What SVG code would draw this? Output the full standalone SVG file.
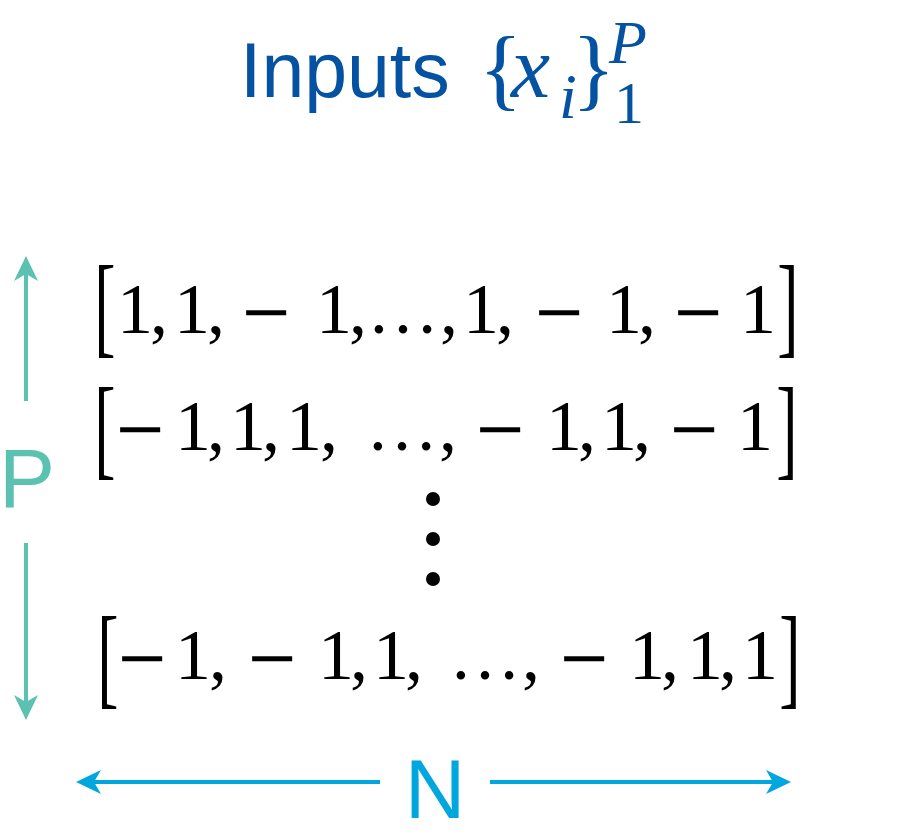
<svg xmlns="http://www.w3.org/2000/svg" width="923" height="836" viewBox="0 0 923 836">
  <style>
    .title { font-family: "Liberation Sans", Arial, sans-serif; font-size: 77px; fill: #0452A1; }
    .math { font-family: "Liberation Serif", "Times New Roman", serif; fill: #0452A1; }
    .row { font-family: "Liberation Serif", "Times New Roman", serif; font-size: 72px; fill: #000; text-anchor: middle; }
    .mn { font-family: "DejaVu Serif", serif; font-size: 64px; }
    .br { font-family: "Liberation Serif", "Times New Roman", serif; font-size: 64px; fill: #000; text-anchor: middle; }
    .dimP { stroke: #5BC2B1; stroke-width: 4; fill: none; }
    .dimN { stroke: #00A6DE; stroke-width: 4; fill: none; }
    .lblP { font-family: "Liberation Sans", Arial, sans-serif; font-size: 84px; fill: #5BC2B1; text-anchor: middle; }
    .lblN { font-family: "Liberation Sans", Arial, sans-serif; font-size: 84px; fill: #00A6DE; text-anchor: middle; }
  </style>
  <defs>
    <marker id="headP" markerUnits="userSpaceOnUse" viewBox="0 0 25 24" refX="8" refY="12" markerWidth="25" markerHeight="24" orient="auto">
      <path d="M0,0 L25,12 L0,24 L7,12 Z" fill="#5BC2B1"/>
    </marker>
    <marker id="headN" markerUnits="userSpaceOnUse" viewBox="0 0 25 24" refX="8" refY="12" markerWidth="25" markerHeight="24" orient="auto">
      <path d="M0,0 L25,12 L0,24 L7,12 Z" fill="#00A6DE"/>
    </marker>
  </defs>

  <!-- heading -->
  <g id="title">
    <text class="title" x="240" y="97">Inputs</text>
    <text class="math" font-size="90" x="479" y="99">{</text>
    <text class="math" font-size="88" font-style="italic" x="511" y="97">x</text>
    <text class="math" font-size="64" font-style="italic" x="559" y="118">i</text>
    <text class="math" font-size="90" x="572" y="99">}</text>
    <text class="math" font-size="62" font-style="italic" x="609" y="63">P</text>
    <text class="math" font-size="60" x="614" y="123">1</text>
  </g>

  <!-- vector rows -->
  <g id="row1">
    <text class="br" transform="translate(105,343) scale(1,1.75)">[</text>
    <text class="row" y="333"><tspan x="135">1</tspan><tspan x="159">,</tspan><tspan x="192">1</tspan><tspan x="216">,</tspan><tspan class="mn" x="266">−</tspan><tspan x="334">1</tspan><tspan x="358">,</tspan><tspan x="403">…</tspan><tspan x="449">,</tspan><tspan x="481">1</tspan><tspan x="505">,</tspan><tspan class="mn" x="559">−</tspan><tspan x="624">1</tspan><tspan x="647">,</tspan><tspan class="mn" x="698">−</tspan><tspan x="758">1</tspan></text>
    <text class="br" transform="translate(788,343) scale(1,1.75)">]</text>
  </g>
  <g id="row2">
    <text class="br" transform="translate(105,465) scale(1,1.75)">[</text>
    <text class="row" y="450"><tspan class="mn" x="140">−</tspan><tspan x="193">1</tspan><tspan x="216">,</tspan><tspan x="248">1</tspan><tspan x="271">,</tspan><tspan x="304">1</tspan><tspan x="329">,</tspan><tspan x="402">…</tspan><tspan x="448">,</tspan><tspan class="mn" x="500">−</tspan><tspan x="564">1</tspan><tspan x="587">,</tspan><tspan x="619">1</tspan><tspan x="642">,</tspan><tspan class="mn" x="694">−</tspan><tspan x="755">1</tspan></text>
    <text class="br" transform="translate(787,465) scale(1,1.75)">]</text>
  </g>
  <g id="vdots">
    <circle cx="433" cy="499" r="7"/>
    <circle cx="433" cy="539" r="7"/>
    <circle cx="433" cy="579" r="7"/>
  </g>
  <g id="row3">
    <text class="br" transform="translate(108,694) scale(1,1.75)">[</text>
    <text class="row" y="679"><tspan class="mn" x="142">−</tspan><tspan x="193">1</tspan><tspan x="218">,</tspan><tspan class="mn" x="272">−</tspan><tspan x="336">1</tspan><tspan x="359">,</tspan><tspan x="391">1</tspan><tspan x="414">,</tspan><tspan x="485">…</tspan><tspan x="531">,</tspan><tspan class="mn" x="584">−</tspan><tspan x="647">1</tspan><tspan x="670">,</tspan><tspan x="705">1</tspan><tspan x="728">,</tspan><tspan x="760">1</tspan></text>
    <text class="br" transform="translate(790,694) scale(1,1.75)">]</text>
  </g>

  <!-- dimension labels -->
  <g id="labelP"><text class="lblP" x="27" y="507">P</text></g>
  <g id="labelN"><text class="lblN" x="435" y="818">N</text></g>

  <!-- dimension arrows -->
  <g id="connectors">
    <path class="dimP" d="M26,401 L26,273" marker-end="url(#headP)"/>
    <path class="dimP" d="M26,543 L26,703" marker-end="url(#headP)"/>
    <path class="dimN" d="M380,782 L93,782" marker-end="url(#headN)"/>
    <path class="dimN" d="M490,782 L774,782" marker-end="url(#headN)"/>
  </g>
</svg>
